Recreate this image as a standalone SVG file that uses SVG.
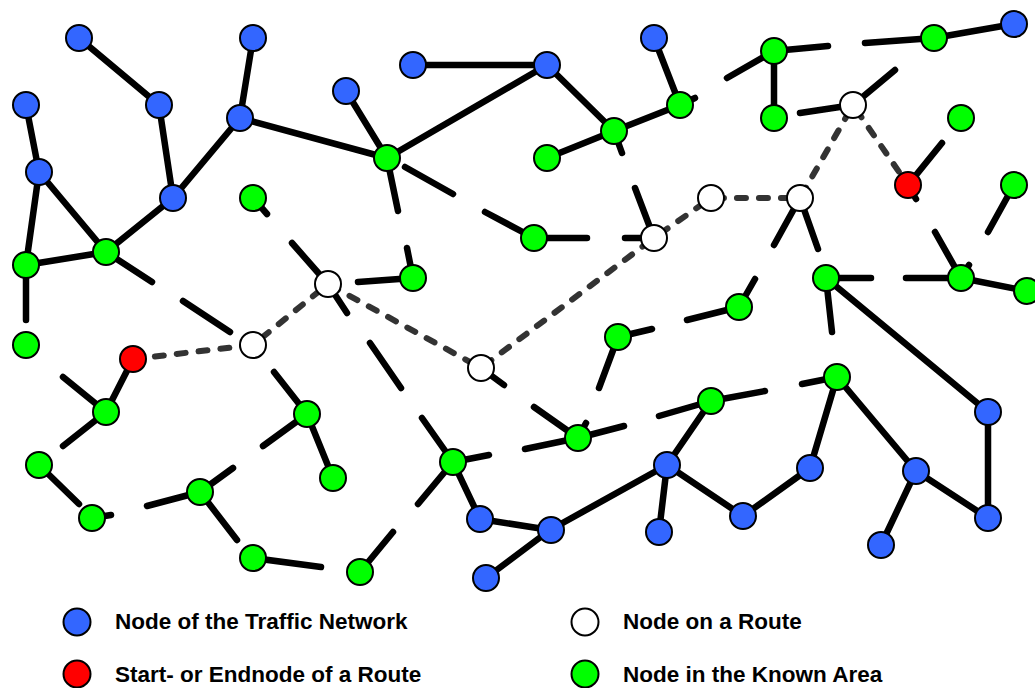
<svg xmlns="http://www.w3.org/2000/svg" width="1035" height="688" viewBox="0 0 1035 688">
<style>
.e{stroke:#000;stroke-width:6.5;stroke-linecap:round;fill:none}
.r{stroke:#333;stroke-width:6;stroke-linecap:round;stroke-dasharray:9 13;fill:none}
.n{stroke:#000;stroke-width:2}
.b{fill:#3366ff}.g{fill:#00ff00}.w{fill:#fff}.d{fill:#ff0000}
.t{font-family:"Liberation Sans",Arial,sans-serif;font-weight:bold;font-size:22.5px;fill:#000}
</style>
<rect width="1035" height="688" fill="#fff"/>
<g id="connectors">
<path class="r" d="M133,359 L253,345 L328,284 L481,368 L654,238 L711,198 L800,198 L853,105 L908,185"/>
<path class="e" d="M79,38L159,105 M253,38L240,118 M26,105L39,172 M159,105L173,198 M240,118L173,198 M240,118L387,158 M39,172L26,265 M39,172L106,252 M26,265L106,252 M106,252L173,198 M346,91L387,158 M413,65L547,65 M547,65L387,158 M547,65L614,131 M654,38L680,105 M614,131L680,105 M614,131L547,158 M774,51L774,118 M934,38L1014,24 M826,278L988,412 M961,278L1027,291 M307,414L333,478 M133,359L106,412 M453,462L480,519 M480,519L550,530 M550,530L486,578 M550,530L667,465 M667,465L659,532 M667,465L743,516 M743,516L810,468 M810,468L837,377 M837,377L916,471 M916,471L881,545 M916,471L988,518 M988,412L988,518 M711,401L667,465"/>
<path class="e" d="M26,265L26,320 M106,252L152,282 M253,198L267,214 M387,158L398,211 M405,167L453,194 M485,212L534,238 M534,238L587,238 M625,238L654,238 M654,238L635,188 M407,248L413,278 M358,282L413,278 M614,131L622,153 M774,51L727,78 M774,51L828,46 M865,43L934,38 M800,113L853,105 M853,105L895,70 M680,105L695,98 M908,185L942,143 M908,185L916,199 M1014,185L988,232 M800,198L774,245 M800,198L818,249 M826,278L871,278 M826,278L832,332 M906,278L961,278 M935,232L961,278 M961,278L969,265 M183,301L230,332 M274,372L307,414 M307,414L263,446 M292,243L328,284 M328,284L347,313 M481,368L504,385 M370,343L401,388 M422,418L453,462 M453,462L489,455 M453,462L418,504 M360,572L393,532 M534,407L578,438 M525,449L578,438 M578,438L624,426 M578,438L586,423 M659,416L711,401 M711,401L765,391 M802,384L837,377 M687,320L739,307 M739,307L755,279 M618,337L652,329 M618,337L599,388 M63,377L106,412 M106,412L63,446 M39,465L79,504 M92,518L111,515 M147,506L200,492 M200,492L233,468 M200,492L237,540 M253,558L321,567"/>
</g>
<g id="B1"><circle class="n b" cx="79" cy="38" r="13"/></g>
<g id="B2"><circle class="n b" cx="253" cy="38" r="13"/></g>
<g id="B3"><circle class="n b" cx="26" cy="105" r="13"/></g>
<g id="B4"><circle class="n b" cx="159" cy="105" r="13"/></g>
<g id="B5"><circle class="n b" cx="240" cy="118" r="13"/></g>
<g id="B6"><circle class="n b" cx="39" cy="172" r="13"/></g>
<g id="B7"><circle class="n b" cx="173" cy="198" r="13"/></g>
<g id="B8"><circle class="n b" cx="346" cy="91" r="13"/></g>
<g id="B9"><circle class="n b" cx="413" cy="65" r="13"/></g>
<g id="B10"><circle class="n b" cx="547" cy="65" r="13"/></g>
<g id="B11"><circle class="n b" cx="654" cy="38" r="13"/></g>
<g id="B12"><circle class="n b" cx="1014" cy="24" r="13"/></g>
<g id="B13"><circle class="n b" cx="988" cy="412" r="13"/></g>
<g id="B14"><circle class="n b" cx="988" cy="518" r="13"/></g>
<g id="B15"><circle class="n b" cx="916" cy="471" r="13"/></g>
<g id="B16"><circle class="n b" cx="881" cy="545" r="13"/></g>
<g id="B17"><circle class="n b" cx="810" cy="468" r="13"/></g>
<g id="B18"><circle class="n b" cx="743" cy="516" r="13"/></g>
<g id="B19"><circle class="n b" cx="667" cy="465" r="13"/></g>
<g id="B20"><circle class="n b" cx="659" cy="532" r="13"/></g>
<g id="B21"><circle class="n b" cx="551" cy="530" r="13"/></g>
<g id="B22"><circle class="n b" cx="480" cy="519" r="13"/></g>
<g id="B23"><circle class="n b" cx="486" cy="578" r="13"/></g>
<g id="G1"><circle class="n g" cx="26" cy="265" r="13"/></g>
<g id="G2"><circle class="n g" cx="106" cy="252" r="13"/></g>
<g id="G3"><circle class="n g" cx="253" cy="198" r="13"/></g>
<g id="G4"><circle class="n g" cx="26" cy="345" r="13"/></g>
<g id="G5"><circle class="n g" cx="387" cy="158" r="13"/></g>
<g id="G6"><circle class="n g" cx="614" cy="131" r="13"/></g>
<g id="G7"><circle class="n g" cx="680" cy="105" r="13"/></g>
<g id="G8"><circle class="n g" cx="547" cy="158" r="13"/></g>
<g id="G9"><circle class="n g" cx="534" cy="238" r="13"/></g>
<g id="G10"><circle class="n g" cx="413" cy="278" r="13"/></g>
<g id="G11"><circle class="n g" cx="774" cy="51" r="13"/></g>
<g id="G12"><circle class="n g" cx="934" cy="38" r="13"/></g>
<g id="G13"><circle class="n g" cx="774" cy="118" r="13"/></g>
<g id="G14"><circle class="n g" cx="961" cy="118" r="13"/></g>
<g id="G15"><circle class="n g" cx="1014" cy="185" r="13"/></g>
<g id="G16"><circle class="n g" cx="826" cy="278" r="13"/></g>
<g id="G17"><circle class="n g" cx="961" cy="278" r="13"/></g>
<g id="G18"><circle class="n g" cx="1027" cy="291" r="13"/></g>
<g id="G19"><circle class="n g" cx="739" cy="307" r="13"/></g>
<g id="G20"><circle class="n g" cx="618" cy="337" r="13"/></g>
<g id="G21"><circle class="n g" cx="837" cy="377" r="13"/></g>
<g id="G22"><circle class="n g" cx="711" cy="401" r="13"/></g>
<g id="G23"><circle class="n g" cx="578" cy="438" r="13"/></g>
<g id="G24"><circle class="n g" cx="453" cy="462" r="13"/></g>
<g id="G25"><circle class="n g" cx="307" cy="414" r="13"/></g>
<g id="G26"><circle class="n g" cx="333" cy="478" r="13"/></g>
<g id="G27"><circle class="n g" cx="106" cy="412" r="13"/></g>
<g id="G28"><circle class="n g" cx="39" cy="465" r="13"/></g>
<g id="G29"><circle class="n g" cx="92" cy="518" r="13"/></g>
<g id="G30"><circle class="n g" cx="200" cy="492" r="13"/></g>
<g id="G31"><circle class="n g" cx="253" cy="558" r="13"/></g>
<g id="G32"><circle class="n g" cx="360" cy="572" r="13"/></g>
<g id="R1"><circle class="n d" cx="133" cy="359" r="13"/></g>
<g id="R2"><circle class="n d" cx="908" cy="185" r="13"/></g>
<g id="W1"><circle class="n w" cx="253" cy="345" r="13"/></g>
<g id="W2"><circle class="n w" cx="328" cy="284" r="13"/></g>
<g id="W3"><circle class="n w" cx="481" cy="368" r="13"/></g>
<g id="W4"><circle class="n w" cx="654" cy="238" r="13"/></g>
<g id="W5"><circle class="n w" cx="711" cy="198" r="13"/></g>
<g id="W6"><circle class="n w" cx="800" cy="198" r="13"/></g>
<g id="W7"><circle class="n w" cx="853" cy="105" r="13"/></g>
<g id="legend">
<circle class="n b" cx="77" cy="622" r="13.5"/>
<text class="t" x="115" y="629">Node of the Traffic Network</text>
<circle class="n d" cx="77" cy="674" r="13.5"/>
<text class="t" x="115" y="682">Start- or Endnode of a Route</text>
<circle class="n w" cx="585" cy="622" r="13.5"/>
<text class="t" x="623" y="629">Node on a Route</text>
<circle class="n g" cx="585" cy="674" r="13.5"/>
<text class="t" x="623" y="682">Node in the Known Area</text>
</g>
</svg>
